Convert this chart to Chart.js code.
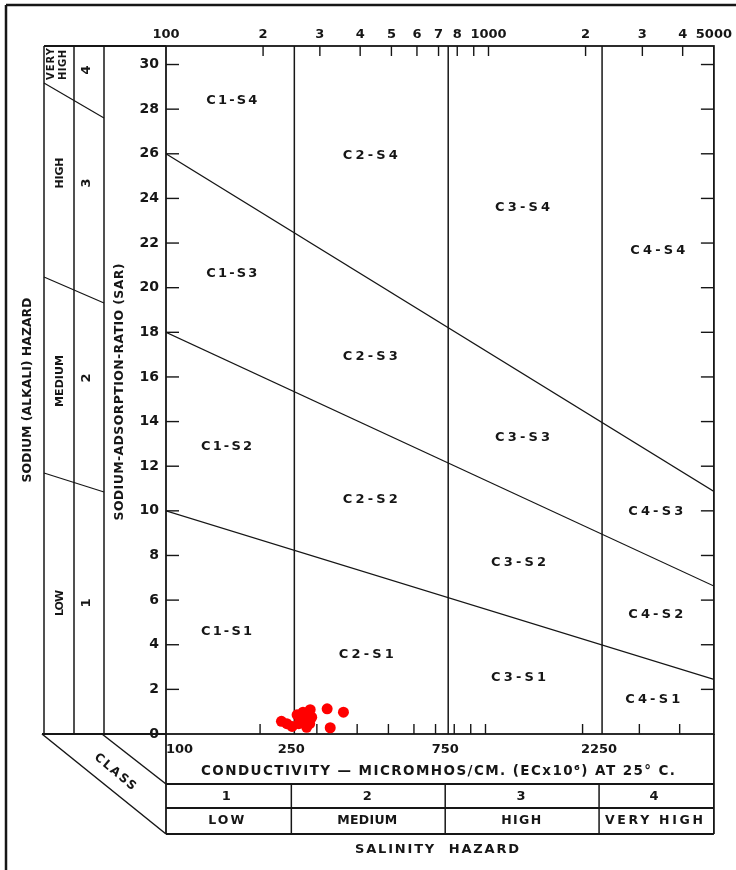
<!DOCTYPE html>
<html><head><meta charset="utf-8">
<script src="https://cdn.jsdelivr.net/npm/chart.js@4/dist/chart.umd.min.js"></script>
<style>html,body{margin:0;padding:0;background:#fff;}canvas{display:block;}</style>
</head><body>
<canvas id="c" width="736" height="870"></canvas>
<script>
// ---- data ----
const ecTickValues = [100,200,300,400,500,600,700,800,900,1000,2000,3000,4000,5000];
const ecTickLabels = ['100','2','3','4','5','6','7','8','','1000','2','3','4','5000'];
const sarTickValues = [0,2,4,6,8,10,12,14,16,18,20,22,24,26,28,30];
const sarTickLabels = ['0','2','4','6','8','10','12','14','16','18','20','22','24','26','28','30'];
const sarMax = 30.83;
const salinityBounds = [250, 750, 2250];
const ecBottomValues = [100, 250, 750, 2250];
const ecBottomLabels = ['100', '250', '750', '2250'];
const salinityClassEdges = [100, 250, 750, 2250, 5000];
const salinityClassNumbers = ['1', '2', '3', '4'];
const salinityHazardNames = ['LOW', 'MEDIUM', 'HIGH', 'VERY HIGH'];
const sodiumLineEC = [100, 5000];
const sodiumS1S2 = [10, 2.45];
const sodiumS2S3 = [18, 6.63];
const sodiumS3S4 = [26, 10.87];
const sampleEC  = [228, 237, 246, 255, 258, 266, 270, 275, 273, 280, 283, 279, 316, 323, 355];
const sampleSAR = [0.57, 0.46, 0.34, 0.86, 0.46, 0.98, 0.61, 0.75, 0.30, 1.09, 0.75, 0.46, 1.13, 0.28, 0.98];
const regionNames = ['C1-S4','C2-S4','C3-S4','C4-S4','C1-S3','C2-S3','C3-S3','C4-S3','C1-S2','C2-S2','C3-S2','C4-S2','C1-S1','C2-S1','C3-S1','C4-S1'];
const regionEC  = [160, 430, 1275, 3350, 160, 430, 1275, 3300, 154, 430, 1240, 3300, 154, 418, 1240, 3230];
const regionSAR = [28.37, 25.9, 23.58, 21.65, 20.62, 16.9, 13.27, 9.95, 12.86, 10.49, 7.66, 5.33, 4.57, 3.54, 2.51, 1.52];

// ---- drawing helpers ----
const BLACK = '#161616';
const FONT = '"DejaVu Sans", "Liberation Sans", sans-serif';
function line(ctx, x1, y1, x2, y2, w) {
  ctx.beginPath(); ctx.lineWidth = w || 1.3; ctx.moveTo(x1, y1); ctx.lineTo(x2, y2); ctx.stroke();
}
function txt(ctx, s, x, y, size, opts) {
  opts = opts || {};
  ctx.save();
  ctx.font = 'bold ' + size + 'px ' + FONT;
  ctx.fillStyle = BLACK;
  ctx.textBaseline = 'middle';
  ctx.textAlign = 'left';
  try { ctx.letterSpacing = '0px'; } catch (e) {}
  const w0 = ctx.measureText(s).width;
  let w = w0;
  if (opts.width) {
    let ls = (opts.width - w0) / Math.max(1, s.length - 1);
    ls = Math.max(-1, ls);
    try { ctx.letterSpacing = ls + 'px'; } catch (e) {}
    w = w0 + ls * (s.length - 1);
  }
  ctx.translate(x, y);
  if (opts.angle) ctx.rotate(opts.angle);
  const align = opts.align || 'center';
  const x0 = align === 'center' ? -w / 2 : (align === 'right' ? -w : 0);
  ctx.fillText(s, x0, 0);
  ctx.restore();
}

const decor = {
  id: 'decor',
  beforeDatasetsDraw(chart) {
    const ctx = chart.ctx, a = chart.chartArea, x = chart.scales.x, y = chart.scales.y;
    ctx.save();
    ctx.strokeStyle = BLACK; ctx.lineCap = 'butt';
    // page frame
    line(ctx, 6, 5, 736, 5, 2.5);
    line(ctx, 6, 5, 6, 870, 2.5);
    // plot frame
    ctx.lineWidth = 1.8;
    ctx.strokeRect(a.left, a.top, a.right - a.left, a.bottom - a.top);
    // inner tick marks
    ecTickValues.forEach(v => {
      if (v === ecTickValues[0] || v === ecTickValues[ecTickValues.length - 1]) return;
      const px = x.getPixelForValue(v);
      line(ctx, px, a.top, px, a.top + 10, 1.4);
      line(ctx, px - 3, a.bottom, px - 3, a.bottom - 10, 1.4);
    });
    sarTickValues.forEach(v => {
      if (v === 0) return;
      const py = y.getPixelForValue(v);
      line(ctx, a.left, py, a.left + 13, py, 1.4);
      line(ctx, a.right, py, a.right - 13, py, 1.4);
    });
    // left (sodium hazard) panel
    const L1 = 44, L2 = 74, L3 = 104;
    line(ctx, L1, a.top, a.left, a.top, 1.8);
    line(ctx, L1 - 2, a.bottom, a.left, a.bottom, 1.8);
    [L1, L2, L3].forEach(px => line(ctx, px, a.top, px, a.bottom, 1.5));
    line(ctx, L1, 83, L3, 118, 1.2);
    line(ctx, L1, 277, L3, 303, 1.2);
    line(ctx, L1, 473, L3, 492, 1.2);
    // bottom (salinity hazard) table
    const T1 = 784, T2 = 808, T3 = 834;
    line(ctx, L1 - 2, a.bottom, a.left, T3, 1.5);
    line(ctx, L3 - 2, a.bottom, a.left, T1, 1.5);
    line(ctx, a.left, a.bottom, a.left, T3, 1.8);
    line(ctx, a.right, a.bottom, a.right, T3, 1.8);
    [T1, T2, T3].forEach(py => line(ctx, a.left, py, a.right, py, 1.8));
    salinityBounds.forEach(b => { const px = x.getPixelForValue(b) - 3; line(ctx, px, T1, px, T3, 1.5); });

    // texts
    txt(ctx, 'SODIUM-ADSORPTION-RATIO (SAR)', 120, 392, 12.5, {width: 257, angle: -Math.PI / 2});
    txt(ctx, 'SODIUM (ALKALI) HAZARD', 28, 390, 12.5, {width: 185, angle: -Math.PI / 2});
    txt(ctx, 'VERY', 51, 64, 10, {width: 32, angle: -Math.PI / 2});
    txt(ctx, 'HIGH', 63, 65, 10, {width: 30, angle: -Math.PI / 2});
    txt(ctx, '4', 87, 70, 13, {angle: -Math.PI / 2});
    txt(ctx, 'HIGH', 60, 173, 11, {width: 31, angle: -Math.PI / 2});
    txt(ctx, '3', 87, 183, 13, {angle: -Math.PI / 2});
    txt(ctx, 'MEDIUM', 60, 381, 11, {width: 52, angle: -Math.PI / 2});
    txt(ctx, '2', 87, 378, 13, {angle: -Math.PI / 2});
    txt(ctx, 'LOW', 60, 603, 11, {width: 26, angle: -Math.PI / 2});
    txt(ctx, '1', 87, 603, 13, {angle: -Math.PI / 2});

    regionNames.forEach((n, i) => {
      txt(ctx, n, x.getPixelForValue(regionEC[i]), y.getPixelForValue(regionSAR[i]), 13, {width: n.indexOf('C1') === 0 ? 51 : 55});
    });

    ecBottomValues.forEach((v, i) => {
      const px = x.getPixelForValue(v);
      if (i === 0) txt(ctx, ecBottomLabels[i], px, 750, 13, {align: 'left'});
      else txt(ctx, ecBottomLabels[i], px - 3, 750, 13);
    });
    txt(ctx, 'CONDUCTIVITY \u2014 MICROMHOS/CM. (ECx10\u2076) AT 25\u00B0 C.', 438, 771, 13.5, {width: 474});
    const hazW = [36, 60, 40, 98];
    for (let i = 0; i < 4; i++) {
      const cx = (x.getPixelForValue(salinityClassEdges[i]) + x.getPixelForValue(salinityClassEdges[i + 1])) / 2 - 4;
      txt(ctx, salinityClassNumbers[i], cx, 797, 13);
      txt(ctx, salinityHazardNames[i], cx, 821, 12.5, {width: hazW[i]});
    }
    txt(ctx, 'SALINITY  HAZARD', 437, 850, 13, {width: 164});
    txt(ctx, 'CLASS', 115, 772, 12, {width: 50, angle: 40 * Math.PI / 180});
    ctx.restore();
  }
};

function lineDs(xs, ys, w) {
  return {data: xs.map((v, i) => ({x: v, y: ys[i]})), showLine: true, pointRadius: 0,
          borderColor: BLACK, borderWidth: w, fill: false, tension: 0};
}

new Chart(document.getElementById('c'), {
  type: 'scatter',
  data: {
    datasets: [
      {data: sampleEC.map((v, i) => ({x: v, y: sampleSAR[i]})), pointRadius: 5.5,
       pointBackgroundColor: '#ff0000', pointBorderWidth: 0, pointBorderColor: '#ff0000', showLine: false},
      lineDs(sodiumLineEC, sodiumS1S2, 1.2),
      lineDs(sodiumLineEC, sodiumS2S3, 1.2),
      lineDs(sodiumLineEC, sodiumS3S4, 1.2),
      ...salinityBounds.map(b => lineDs([b, b], [0, sarMax], 1.5))
    ]
  },
  options: {
    responsive: false, animation: false, devicePixelRatio: 1,
    layout: {padding: {left: 0, top: 0, right: 21, bottom: 136}},
    plugins: {legend: {display: false}, tooltip: {enabled: false}},
    scales: {
      x: {
        type: 'logarithmic', position: 'top', min: 100, max: 5000,
        grid: {display: false, drawTicks: false}, border: {display: false},
        afterBuildTicks: s => { s.ticks = ecTickValues.map(v => ({value: v})); },
        afterFit: s => { s.height = 46; },
        ticks: {autoSkip: false, maxRotation: 0, minRotation: 0, padding: 4, color: BLACK,
                font: {family: FONT, size: 13, weight: 'bold'},
                callback: (v, i) => ecTickLabels[i]}
      },
      y: {
        type: 'linear', min: 0, max: sarMax,
        grid: {display: false, drawTicks: false}, border: {display: false},
        afterBuildTicks: s => { s.ticks = sarTickValues.map(v => ({value: v})); },
        afterFit: s => { s.width = 166; },
        ticks: {autoSkip: false, padding: 7, color: BLACK,
                font: {family: FONT, size: 14, weight: 'bold'},
                callback: (v, i) => sarTickLabels[i]}
      }
    }
  },
  plugins: [decor]
});
</script>
</body></html>
